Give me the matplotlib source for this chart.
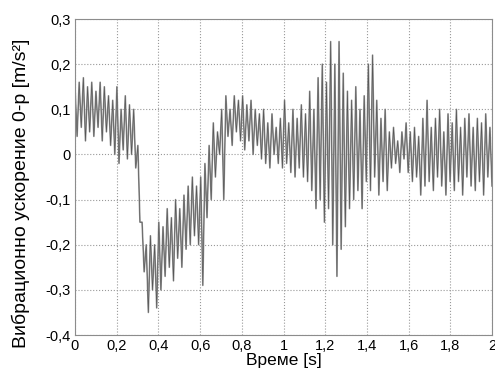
import matplotlib
matplotlib.use("Agg")
import matplotlib.pyplot as plt
import numpy as np

# envelope of the vibration signal, one peak and one trough per 0.02 s cycle
peaks = [0.15, 0.16, 0.17, 0.15, 0.16, 0.14, 0.16, 0.15, 0.13, 0.12,
         0.15, 0.10, 0.13, 0.11, 0.10, 0.02, -0.15, -0.20, -0.18, -0.20,
         -0.15, -0.16, -0.12, -0.14, -0.10, -0.12, -0.09, -0.07, -0.05, -0.07,
         -0.05, -0.02, 0.02, 0.07, 0.05, 0.10, 0.13, 0.10, 0.13, 0.12,
         0.13, 0.11, 0.12, 0.10, 0.09, 0.10, 0.07, 0.09, 0.06, 0.08,
         0.12, 0.07, 0.10, 0.08, 0.11, 0.09, 0.14, 0.10, 0.17, 0.20,
         0.16, 0.25, 0.20, 0.25, 0.18, 0.14, 0.12, 0.15, 0.10, 0.13,
         0.20, 0.22, 0.12, 0.08, 0.10, 0.05, 0.06, 0.03, 0.05, 0.07,
         0.05, 0.06, 0.04, 0.08, 0.12, 0.06, 0.08, 0.10, 0.05, 0.09,
         0.07, 0.10, 0.06, 0.08, 0.09, 0.06, 0.08, 0.07, 0.09, 0.06]
troughs = [0.04, 0.06, 0.03, 0.05, 0.04, 0.06, 0.03, 0.05, 0.02, 0.00,
           -0.02, 0.01, -0.01, 0.00, -0.03, -0.15, -0.26, -0.35, -0.30, -0.34,
           -0.30, -0.27, -0.25, -0.28, -0.23, -0.25, -0.21, -0.20, -0.18, -0.20,
           -0.29, -0.14, -0.10, -0.05, 0.00, -0.10, 0.04, 0.02, 0.05, 0.03,
           0.01, 0.03, 0.00, 0.02, -0.01, -0.02, -0.03, 0.00, -0.02, -0.03,
           -0.02, -0.04, -0.05, -0.03, -0.05, -0.06, -0.08, -0.12, -0.10, -0.15,
           -0.12, -0.20, -0.27, -0.21, -0.16, -0.12, -0.10, -0.08, -0.12, -0.06,
           -0.08, -0.05, -0.09, -0.06, -0.08, -0.03, -0.02, -0.04, -0.01, -0.04,
           -0.06, -0.05, -0.09, -0.07, -0.06, -0.08, -0.05, -0.07, -0.09, -0.06,
           -0.08, -0.06, -0.09, -0.05, -0.07, -0.08, -0.06, -0.09, -0.05, -0.07]

xticks = [0, 0.2, 0.4, 0.6, 0.8, 1.0, 1.2, 1.4, 1.6, 1.8, 2.0]
yticks = [-0.4, -0.3, -0.2, -0.1, 0, 0.1, 0.2, 0.3]

signal = np.column_stack([peaks, troughs]).ravel()
t = np.linspace(0, 2, len(signal))

plt.rcParams["font.family"] = ["Liberation Sans", "DejaVu Sans"]

fig = plt.figure(figsize=(4.95, 3.69), dpi=100)
ax = fig.add_axes([0.1515, 0.092, 0.8425, 0.8565])
ax.plot(t, signal, color="#9a9a9a", lw=1.2)
ax.plot(t, signal, color="#3a3a3a", lw=0.45, alpha=0.7)

ax.set_xlim(0, 2)
ax.set_ylim(-0.4, 0.3)
ax.set_xticks(xticks)
ax.set_yticks(yticks)


def comma(v):
    return f"{v:g}".replace(".", ",")


ax.set_xticklabels([comma(v) for v in xticks], fontsize=10.5)
ax.set_yticklabels([comma(v) for v in yticks], fontsize=10.5)
ax.tick_params(length=0, pad=3)
ax.grid(True, linestyle=":", color="#999999", lw=0.8)
for sp in ax.spines.values():
    sp.set_color("#8c8c8c")

ax.set_xlabel("Време [s]", fontsize=12.5, labelpad=0)
ax.set_ylabel("Вибрационно ускорение 0-р [m/s²]", fontsize=14)
ax.yaxis.set_label_coords(-0.107, 0.45)

fig.savefig("out.png", dpi=100)
